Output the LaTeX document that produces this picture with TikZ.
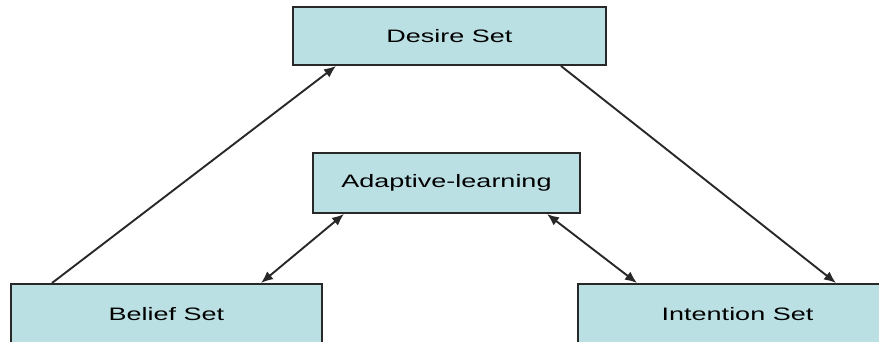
\documentclass[tikz,border=0pt]{standalone}
\usepackage{fontspec}
\setmainfont{Liberation Sans}
\usetikzlibrary{arrows.meta,calc}
\definecolor{boxfill}{RGB}{187,224,228}
\definecolor{boxline}{RGB}{40,40,40}
\tikzset{
  setbox/.style={draw=boxline, line width=2pt, fill=boxfill, rectangle, inner sep=0pt,
    font=\fontsize{18}{20}\selectfont},
  link/.style={draw=boxline, line width=1.9pt, -{Latex[length=12pt,width=10pt]}},
  dlink/.style={draw=boxline, line width=1.9pt, {Latex[length=12pt,width=10pt]}-{Latex[length=12pt,width=10pt]}}
}
\newcommand{\wide}[1]{\scalebox{1.5}[1]{#1}}
\begin{document}
\begin{tikzpicture}[x=1pt,y=-1pt]
\useasboundingbox (0,0) rectangle (879,342);
\clip (0,0) rectangle (879,342);
\node[setbox, minimum width=313pt, minimum height=58pt] (desire) at (449.5,36) {\wide{Desire Set}};
\node[setbox, minimum width=267pt, minimum height=60pt] (adapt) at (446.5,183) {\wide{Adaptive-learning}};
\node[setbox, minimum width=311pt, minimum height=60pt] (belief) at (166.5,314) {\wide{Belief Set}};
\node[setbox, minimum width=319pt, minimum height=60pt] (intent) at (737.5,314) {\wide{Intention Set}};
\coordinate (b1) at ($(belief.north west)+(42,0)$);
\coordinate (d1) at ($(desire.south west)+(44,0)$);
\coordinate (d2) at ($(desire.south west)+(269,0)$);
\coordinate (i1) at ($(intent.north west)+(259,0)$);
\coordinate (a1) at ($(adapt.south west)+(32,0)$);
\coordinate (a2) at ($(adapt.south west)+(235,0)$);
\coordinate (b2) at ($(belief.north west)+(251,0)$);
\coordinate (i2) at ($(intent.north west)+(60,0)$);
\draw[link] (b1) -- (d1);
\draw[link] (d2) -- (i1);
\draw[dlink] (a1) -- (b2);
\draw[dlink] (a2) -- (i2);
\end{tikzpicture}
\end{document}
